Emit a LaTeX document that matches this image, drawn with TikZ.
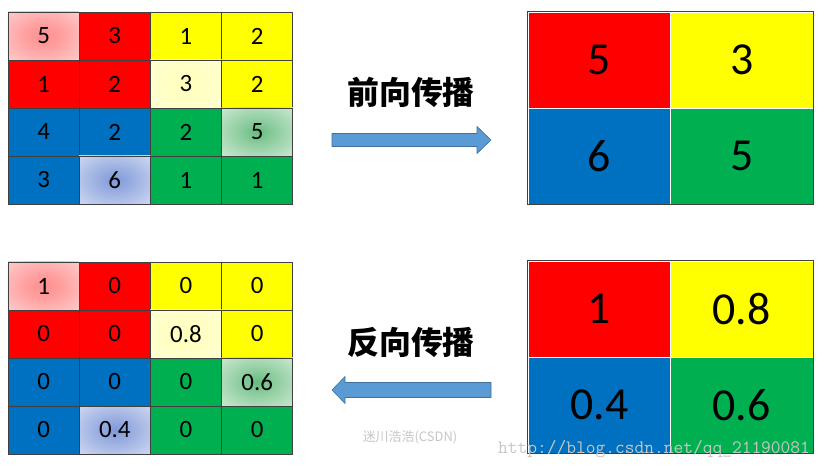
\documentclass[tikz,border=0pt]{standalone}
\usepackage{fontspec}
\setmainfont{Carlito}
\newfontfamily\cjk{Noto Sans CJK SC}
\usepackage{tikz}
\usetikzlibrary{positioning}

\definecolor{cred}{HTML}{FF0000}
\definecolor{cyellow}{HTML}{FFFF00}
\definecolor{cblue}{HTML}{0070C0}
\definecolor{cgreen}{HTML}{00B050}
\definecolor{arrowblue}{HTML}{5B9BD5}
\definecolor{arrowedge}{HTML}{41719C}

% soft glows for the picked cells
\pgfdeclareradialshading{pinkglowsh}{\pgfpoint{0bp}{0bp}}{%
  rgb(0bp)=(1,0.56,0.56); rgb(12bp)=(1,0.62,0.62); rgb(42bp)=(1,0.84,0.84); rgb(50bp)=(1,0.86,0.86)}
\pgfdeclareradialshading{yellowglowsh}{\pgfpoint{0bp}{0bp}}{%
  rgb(0bp)=(1,1,0.74); rgb(20bp)=(1,1,0.78); rgb(45bp)=(1,1,0.87); rgb(50bp)=(1,1,0.88)}
\pgfdeclareradialshading{greenglowsh}{\pgfpoint{0bp}{0bp}}{%
  rgb(0bp)=(0.40,0.74,0.50); rgb(12bp)=(0.55,0.80,0.62); rgb(42bp)=(0.86,0.94,0.87); rgb(50bp)=(0.89,0.95,0.90)}
\pgfdeclareradialshading{blueglowsh}{\pgfpoint{0bp}{0bp}}{%
  rgb(0bp)=(0.50,0.60,0.85); rgb(12bp)=(0.60,0.68,0.88); rgb(42bp)=(0.86,0.89,0.96); rgb(50bp)=(0.89,0.91,0.97)}

\tikzset{
  cell/.style={draw=black!75, line width=0.8bp, minimum width=71.2bp,
               minimum height=48bp, inner sep=0pt,
               font=\fontsize{25}{25}\selectfont},
  bigcell/.style={draw=white, line width=0.8bp, minimum width=142.5bp,
                  minimum height=96bp, inner sep=0pt,
                  font=\fontsize{46}{46}\selectfont},
  redcell/.style={fill=cred},
  yellowcell/.style={fill=cyellow},
  bluecell/.style={fill=cblue},
  greencell/.style={fill=cgreen},
  pinkglow/.style={shading=pinkglowsh},
  yellowglow/.style={shading=yellowglowsh},
  greenglow/.style={shading=greenglowsh},
  blueglow/.style={shading=blueglowsh},
  blockarrow/.style={fill=arrowblue, draw=arrowedge, line width=0.6bp},
  title/.style={font=\cjk\bfseries\fontsize{32}{32}\selectfont},
  watermark/.style={text=black!22, inner sep=0pt}
}

\begin{document}
\begin{tikzpicture}[x=1bp, y=-1bp]
        \useasboundingbox[fill=white] (0,0) rectangle (827,469);

        % Forward: input map
        \foreach \val/\sty [count=\i from 0] in {
            5/pinkglow, 3/redcell, 1/yellowcell, 2/yellowcell,
            1/redcell, 2/redcell, 3/yellowglow, 2/yellowcell,
            4/bluecell, 2/bluecell, 2/greencell, 5/greenglow,
            3/bluecell, 6/blueglow, 1/greencell, 1/greencell} {
          \pgfmathtruncatemacro{\r}{div(\i,4)+1}
          \pgfmathtruncatemacro{\c}{mod(\i,4)+1}
          \node[cell, style=\sty] (f\r\c) at ({43.6+71.2*(\c-1)},{36+48*(\r-1)}) {\val};
        }

        % Forward: pooled map
        \foreach \val/\sty [count=\i from 0] in {
            5/redcell, 3/yellowcell, 6/bluecell, 5/greencell} {
          \pgfmathtruncatemacro{\r}{div(\i,2)+1}
          \pgfmathtruncatemacro{\c}{mod(\i,2)+1}
          \node[bigcell, style=\sty] (p\r\c) at ({599.25+142.5*(\c-1)},{60+96*(\r-1)}) {\val};
        }
        \draw[black!75, line width=0.8bp] (p11.north west) rectangle (p22.south east);

        % Backward: gradient map
        \foreach \val/\sty [count=\i from 0] in {
            1/redcell, 0.8/yellowcell, 0.4/bluecell, 0.6/greencell} {
          \pgfmathtruncatemacro{\r}{div(\i,2)+1}
          \pgfmathtruncatemacro{\c}{mod(\i,2)+1}
          \node[bigcell, style=\sty] (g\r\c) at ({599.25+142.5*(\c-1)},{309+96*(\r-1)}) {\val};
        }
        \draw[black!75, line width=0.8bp] (g11.north west) rectangle (g22.south east);

        % Backward: upsampled map
        \foreach \val/\sty [count=\i from 0] in {
            1/pinkglow, 0/redcell, 0/yellowcell, 0/yellowcell,
            0/redcell, 0/redcell, 0.8/yellowglow, 0/yellowcell,
            0/bluecell, 0/bluecell, 0/greencell, 0.6/greenglow,
            0/bluecell, 0.4/blueglow, 0/greencell, 0/greencell} {
          \pgfmathtruncatemacro{\r}{div(\i,4)+1}
          \pgfmathtruncatemacro{\c}{mod(\i,4)+1}
          \node[cell, style=\sty] (b\r\c) at ({43.6+71.2*(\c-1)},{286+48*(\r-1)}) {\val};
        }

        % Arrows
        \coordinate (ftail) at (332,140);
        \draw[blockarrow] (ftail) ++(0,-6.5) -- ++(145,0) -- ++(0,-7) -- ++(14,13.5)
              -- ++(-14,13.5) -- ++(0,-7) -- ++(-145,0) -- cycle;
        \coordinate (btip) at (332,390);
        \draw[blockarrow] (btip) -- ++(13,-13.5) -- ++(0,6) -- ++(146,0) -- ++(0,15)
              -- ++(-146,0) -- ++(0,6) -- cycle;

        % Labels
        \node[title] (fwd) at (411,92) {前向传播};
        \node[title] (bwd) at (411,342) {反向传播};

        % Watermarks
        \node[watermark, font=\cjk\fontsize{13}{13}\selectfont] (wm1) at (410,437) {迷川浩浩(CSDN)};
        \node[watermark, font=\ttfamily\fontsize{19}{19}\selectfont] (wm2) at (654,449) {http://blog.csdn.net/qq\_21190081};
    \end{tikzpicture}
\end{document}
